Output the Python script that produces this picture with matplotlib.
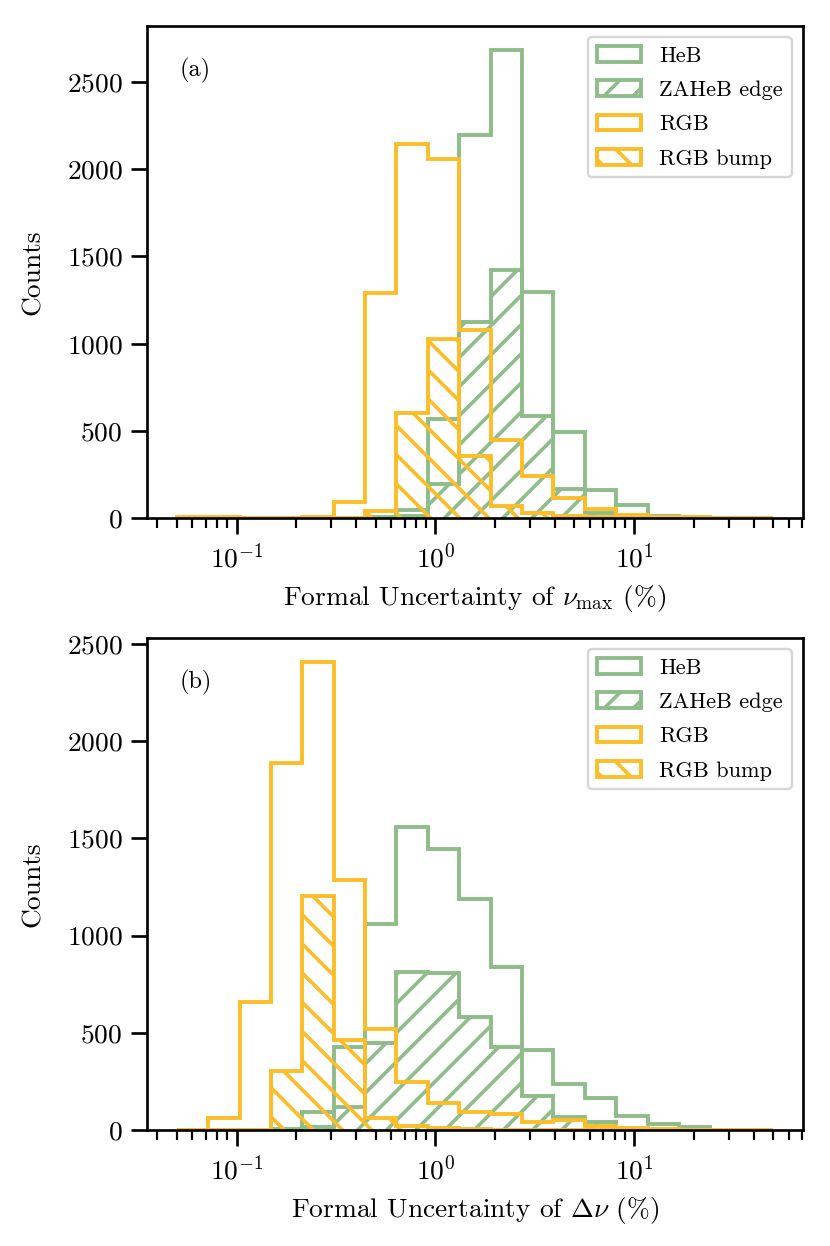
import numpy as np
import matplotlib
matplotlib.use('Agg')
import matplotlib.pyplot as plt

plt.rcParams.update({
    'font.family': 'serif',
    'font.serif': ['cmr10'],
    'mathtext.fontset': 'cm',
    'axes.formatter.use_mathtext': True,
    'font.size': 11.3,
    'axes.linewidth': 1.1,
    'xtick.major.size': 6.6,
    'xtick.minor.size': 4.1,
    'ytick.major.size': 6.6,
    'xtick.major.width': 1.1,
    'xtick.minor.width': 0.9,
    'ytick.major.width': 1.1,
    'hatch.linewidth': 1.5,
})

# log-spaced bin edges shared by both panels
bins = np.logspace(np.log10(0.05), np.log10(50), 20)

# (a) nu_max uncertainty, counts per bin
heb_a = [0, 0, 0, 0, 0, 2, 6, 47, 570, 2195, 2686, 1298, 495, 164, 78, 15, 5, 2, 1]
zaheb_a = [0, 0, 0, 0, 0, 0, 1, 12, 195, 1122, 1420, 588, 165, 28, 6, 2, 0, 0, 0]
rgb_a = [4, 4, 1, 1, 6, 95, 1292, 2142, 2056, 1076, 448, 240, 118, 50, 17, 6, 4, 3, 2]
bump_a = [0, 0, 0, 0, 0, 1, 38, 601, 1025, 357, 70, 28, 15, 5, 2, 1, 0, 0, 0]

# (b) delta nu uncertainty, counts per bin
heb_b = [0, 0, 0, 8, 91, 426, 1058, 1559, 1444, 1186, 838, 410, 238, 165, 74, 34, 14, 3, 1]
zaheb_b = [0, 0, 0, 1, 18, 118, 446, 812, 808, 584, 426, 178, 70, 40, 8, 2, 0, 0, 0]
rgb_b = [3, 60, 657, 1886, 2409, 1286, 522, 245, 142, 91, 85, 44, 53, 22, 13, 5, 3, 2, 1]
bump_b = [0, 0, 2, 302, 1202, 464, 62, 22, 10, 5, 3, 2, 1, 0, 0, 0, 0, 0, 0]

green = '#8ebd8a'
yellow = '#fbbd28'

fig, axes = plt.subplots(2, 1, figsize=(830 / 175, 1246 / 175), dpi=175)
fig.subplots_adjust(left=0.177, right=0.9675, top=0.979, bottom=0.093, hspace=0.244)

panels = [
    (axes[0], heb_a, zaheb_a, rgb_a, bump_a, '(a)', r'Formal Uncertainty of $\nu_{\rm max}$ (%)'),
    (axes[1], heb_b, zaheb_b, rgb_b, bump_b, '(b)', r'Formal Uncertainty of $\Delta\nu$ (%)'),
]

lw = 1.6
centers = np.sqrt(bins[:-1] * bins[1:])
for ax, heb, zaheb, rgb, bump, tag, xlab in panels:
    ax.set_xscale('log')
    ax.hist(centers, bins=bins, weights=heb, histtype='step', edgecolor=green, lw=lw, label='HeB')
    ax.hist(centers, bins=bins, weights=zaheb, histtype='step', edgecolor=green, lw=lw,
            hatch='//', label='ZAHeB edge')
    ax.hist(centers, bins=bins, weights=rgb, histtype='step', edgecolor=yellow, lw=lw, label='RGB')
    ax.hist(centers, bins=bins, weights=bump, histtype='step', edgecolor=yellow, lw=lw,
            hatch='\\\\', label='RGB bump')
    ax.set_xlabel(xlab)
    ax.set_ylabel('Counts', labelpad=9)
    ax.text(0.05, 0.91, tag, transform=ax.transAxes, fontsize=10, ha='left', va='center')
    ax.legend(loc='upper right', fontsize=9.2, labelspacing=0.65)

plt.savefig('out.png', dpi=175)
